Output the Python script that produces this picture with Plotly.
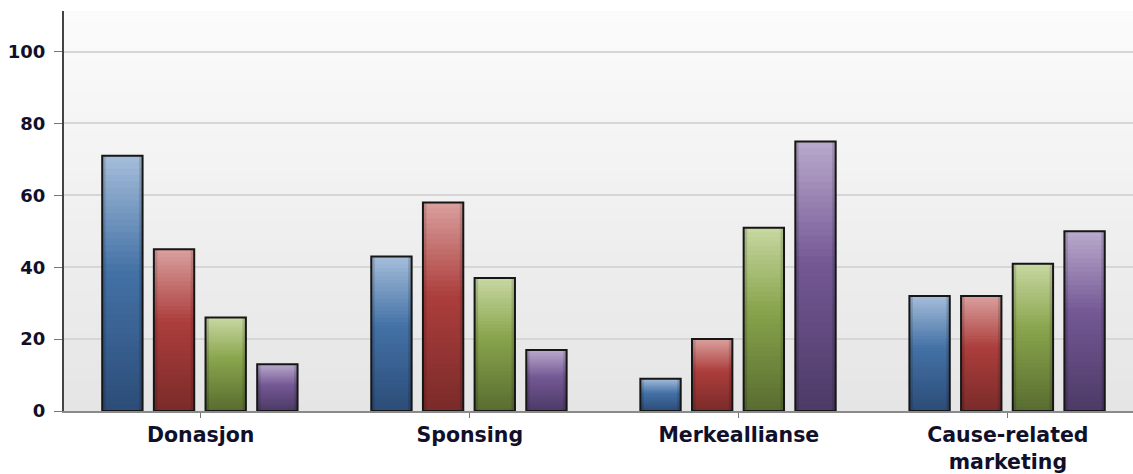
import plotly.graph_objects as go

# Categories and series values (percent)
categories = ["Donasjon", "Sponsing", "Merkeallianse", "Cause-related<br>marketing"]
series_a = [71, 43, 9, 32]   # blue
series_b = [45, 58, 20, 32]  # red
series_c = [26, 37, 51, 41]  # green
series_d = [13, 17, 75, 50]  # purple
y_ticks = [0, 20, 40, 60, 80, 100]

series = [series_a, series_b, series_c, series_d]

# Colour stops for each series: bottom, middle, top
palettes = [
    [(44, 76, 120), (68, 114, 166), (165, 189, 218)],
    [(122, 43, 42), (172, 62, 60), (218, 160, 158)],
    [(88, 108, 48), (136, 164, 76), (200, 216, 162)],
    [(76, 58, 102), (116, 88, 148), (186, 170, 205)],
]

N_LEVELS = 40
MID = 0.55
BAR_W = 0.150
PITCH = 0.192
FIRST_OFF = -0.366


def mix(c1, c2, f):
    return tuple(round(a + (b - a) * f) for a, b in zip(c1, c2))


def shade(stops, t):
    lo, mid, hi = stops
    if t <= MID:
        c = mix(lo, mid, t / MID)
    else:
        c = mix(mid, hi, (t - MID) / (1 - MID))
    return "rgb(%d,%d,%d)" % c


fig = go.Figure()
xs = list(range(len(categories)))

for si, vals in enumerate(series):
    off = FIRST_OFF + si * PITCH
    # nested bars from the top colour down to the bottom colour give a vertical gradient
    gx, gy, gc = [], [], []
    for k in range(N_LEVELS, 0, -1):
        t = k / N_LEVELS
        col = shade(palettes[si], t - 0.5 / N_LEVELS)
        for xi, v in zip(xs, vals):
            gx.append(xi)
            gy.append(v * t)
            gc.append(col)
    fig.add_trace(go.Bar(
        x=gx, y=gy, offset=off, width=BAR_W,
        marker=dict(color=gc, line=dict(width=0)),
        hoverinfo="skip", showlegend=False,
    ))
    # soft darker inner edges
    for eoff in (off, off + BAR_W - 0.013):
        fig.add_trace(go.Bar(
            x=xs, y=vals, offset=eoff, width=0.013,
            marker=dict(color="rgba(0,0,0,0.13)", line=dict(width=0)),
            hoverinfo="skip", showlegend=False,
        ))
    # outline
    fig.add_trace(go.Bar(
        x=xs, y=vals, offset=off, width=BAR_W,
        marker=dict(color="rgba(0,0,0,0)", line=dict(color="#161616", width=2)),
        showlegend=False,
    ))

# vertical background gradient of the plotting area
shapes = []
STRIPS = 40
for i in range(STRIPS):
    f = i / (STRIPS - 1)
    c = mix((229, 229, 229), (251, 251, 251), f)
    shapes.append(dict(
        type="rect", xref="paper", yref="paper",
        x0=0, x1=1, y0=i / STRIPS, y1=(i + 1) / STRIPS,
        fillcolor="rgb(%d,%d,%d)" % c, line=dict(width=0), layer="below",
    ))

font_family = "DejaVu Sans"
fig.update_layout(
    width=1133, height=474,
    margin=dict(l=64, r=0, t=11, b=63),
    barmode="overlay",
    paper_bgcolor="white",
    plot_bgcolor="rgba(0,0,0,0)",
    shapes=shapes,
    showlegend=False,
    font=dict(family=font_family, color="#10102a"),
    xaxis=dict(
        range=[-0.508, 3.465],
        tickmode="array", tickvals=xs, ticktext=categories,
        ticks="outside", ticklen=5, tickcolor="#777777", tickwidth=1,
        tickfont=dict(family=font_family, size=20.5, color="#10102a", weight="bold"),
        showgrid=False, zeroline=False,
        showline=True, linecolor="#8a8a8a", linewidth=1.5,
    ),
    yaxis=dict(
        range=[0, 111.3],
        tickmode="array", tickvals=y_ticks,
        ticks="outside", ticklen=8, tickcolor="#777777", tickwidth=1,
        tickfont=dict(family=font_family, size=18, color="#10102a", weight="bold"),
        ticklabelstandoff=5,
        showgrid=True, gridcolor="#d6d6d6", gridwidth=2,
        zeroline=False,
        showline=True, linecolor="#444444", linewidth=2,
    ),
)

fig.write_html("out.html")
